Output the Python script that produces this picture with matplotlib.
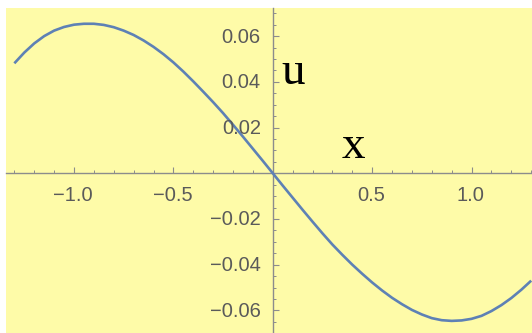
import matplotlib
matplotlib.use("Agg")
import matplotlib.pyplot as plt
from matplotlib.ticker import MultipleLocator, FixedLocator

# sampled solution u(x)
x_vals = [-1.3, -1.25, -1.2, -1.15, -1.1, -1.05, -1.0, -0.95, -0.9, -0.85, -0.8, -0.75,
          -0.7, -0.65, -0.6, -0.55, -0.5, -0.45, -0.4, -0.35, -0.3, -0.25, -0.2, -0.15,
          -0.1, -0.05, 0.0, 0.05, 0.1, 0.15, 0.2, 0.25, 0.3, 0.35, 0.4, 0.45, 0.5, 0.55,
          0.6, 0.65, 0.7, 0.75, 0.8, 0.85, 0.9, 0.95, 1.0, 1.05, 1.1, 1.15, 1.2, 1.25, 1.3]
u_vals = [0.0481, 0.0528, 0.0568, 0.0600, 0.0624, 0.0640, 0.0650, 0.0654, 0.0654, 0.0649,
          0.0639, 0.0624, 0.0605, 0.0581, 0.0553, 0.0521, 0.0485, 0.0445, 0.0402, 0.0357,
          0.0311, 0.0263, 0.0212, 0.0160, 0.0107, 0.0054, 0.0, -0.0054, -0.0107, -0.0160,
          -0.0212, -0.0263, -0.0312, -0.0357, -0.0400, -0.0440, -0.0478, -0.0513, -0.0545,
          -0.0573, -0.0598, -0.0618, -0.0634, -0.0643, -0.0646, -0.0644, -0.0637, -0.0624,
          -0.0603, -0.0577, -0.0546, -0.0510, -0.0470]

x_ticks = [-1.0, -0.5, 0.5, 1.0]
x_labels = ["\u22121.0", "\u22120.5", "0.5", "1.0"]
y_ticks = [-0.06, -0.04, -0.02, 0.02, 0.04, 0.06]
y_labels = ["\u22120.06", "\u22120.04", "\u22120.02", "0.02", "0.04", "0.06"]

W, H = 532, 333
fig = plt.figure(figsize=(W / 100, H / 100), dpi=100, facecolor="white")
ax = fig.add_axes([6 / W, 0, 526 / W, 325 / H])
ax.set_facecolor("#fefba8")

ax.plot(x_vals, u_vals, color="#5e81b5", lw=1.9, solid_capstyle="butt",
        solid_joinstyle="round", zorder=3)

ax.set_xlim(-1.342, 1.304)
ax.set_ylim(-0.0699, 0.0723)

axis_gray = "#8c8c8c"
for side in ["top", "right"]:
    ax.spines[side].set_visible(False)
ax.spines["bottom"].set_position(("data", 0))
ax.spines["left"].set_position(("data", 0))
for side in ["bottom", "left"]:
    ax.spines[side].set_color(axis_gray)
    ax.spines[side].set_linewidth(1.0)

ax.xaxis.set_major_locator(FixedLocator(x_ticks))
ax.xaxis.set_minor_locator(MultipleLocator(0.1))
ax.yaxis.set_major_locator(FixedLocator(y_ticks))
ax.yaxis.set_minor_locator(MultipleLocator(0.005))
ax.set_xticklabels([])
ax.set_yticklabels([])
ax.tick_params(which="major", direction="in", length=4, width=0.8, color=axis_gray)
ax.tick_params(which="minor", direction="in", length=2.2, width=0.7, color=axis_gray)

lab_font = dict(family="Liberation Sans", size=14.5, color="#5a5a5a")
for xt, lab in zip(x_ticks, x_labels):
    ax.annotate(lab, (xt, 0), xytext=(-1, -13), textcoords="offset pixels",
                ha="center", va="top", **lab_font)
for yt, lab in zip(y_ticks, y_labels):
    ax.annotate(lab, (0, yt), xytext=(-12, -1), textcoords="offset pixels",
                ha="right", va="center", **lab_font)

# axis names
serif = dict(family="Liberation Serif", size=34, color="black")
ax.annotate("u", (0, 0), xytext=(20, 100), textcoords="offset pixels",
            ha="center", va="center", **serif)
ax.annotate("x", (0, 0), xytext=(81, 26), textcoords="offset pixels",
            ha="center", va="center", **serif)

fig.savefig("out.png", dpi=100, facecolor="white")
